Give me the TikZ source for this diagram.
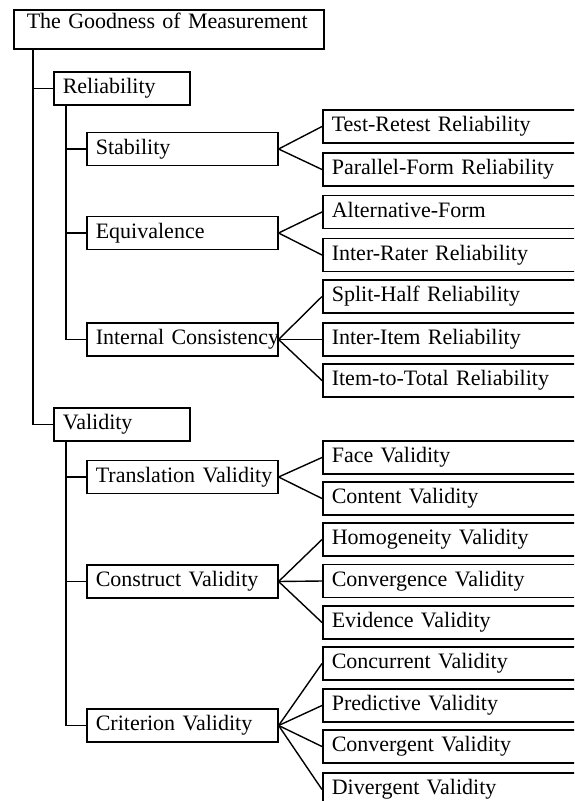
\documentclass[tikz,border=0pt]{standalone}
\usepackage{fontspec}
\setmainfont[WordSpace=0.4]{Liberation Serif}
\usetikzlibrary{calc}

\tikzset{
  box/.style={draw, line width=1.6pt, anchor=west, inner xsep=9pt, inner ysep=0pt,
    minimum height=33pt, text height=15pt, text depth=5pt, align=left,
    font=\fontsize{22}{25}\selectfont},
  lvlzero/.style={box, inner xsep=13pt, inner ysep=3pt, text depth=18pt, text width=284pt},
  lvlone/.style={box, text width=118pt},
  lvltwo/.style={box, text width=173pt},
  leaf/.style={box, text width=252pt},
  line/.style={draw, line width=1.4pt}
}

\begin{document}
\begin{tikzpicture}[x=1pt,y=-1pt]
    \useasboundingbox (0,0) rectangle (574,801);
    \clip (0,0) rectangle (574,801);
    % tree
    \node[lvlzero] (root) at (13,29.5) {The Goodness of Measurement};
    \node[lvlone] (rel) at (53,88.5) {Reliability};
    \node[lvlone] (val) at (53,424.5) {Validity};
    \node[lvltwo] (stab) at (86,149) {Stability};
    \node[lvltwo] (equiv) at (86,233) {Equivalence};
    \node[lvltwo] (intc) at (86,339.5) {\mbox{Internal Consistency}};
    \node[lvltwo] (trans) at (86,477) {\mbox{Translation Validity}};
    \node[lvltwo] (constr) at (86,581.5) {Construct Validity};
    \node[lvltwo] (crit) at (86,725.5) {Criterion Validity};
    % leaves
    \node[leaf] (trr) at (322,126.5) {Test-Retest Reliability};
    \node[leaf] (pfr) at (322,169.5) {Parallel-Form Reliability};
    \node[leaf] (alt) at (322,212) {Alternative-Form};
    \node[leaf] (irr) at (322,255) {Inter-Rater Reliability};
    \node[leaf] (shr) at (322,296.5) {Split-Half Reliability};
    \node[leaf] (iir) at (322,339.5) {Inter-Item Reliability};
    \node[leaf] (itr) at (322,380.5) {Item-to-Total Reliability};
    \node[leaf] (face) at (322,457.5) {Face Validity};
    \node[leaf] (cont) at (322,498.5) {Content Validity};
    \node[leaf] (homo) at (322,539.5) {Homogeneity Validity};
    \node[leaf] (conv) at (322,581) {Convergence Validity};
    \node[leaf] (evid) at (322,622.5) {Evidence Validity};
    \node[leaf] (conc) at (322,663.5) {Concurrent Validity};
    \node[leaf] (pred) at (322,705.5) {Predictive Validity};
    \node[leaf] (cvg) at (322,746.5) {Convergent Validity};
    \node[leaf] (dvg) at (322,789.5) {Divergent Validity};
    % trunks
    \draw[line] ([xshift=20pt]root.south west) |- (val.west);
    \draw[line] ([xshift=20pt]root.south west) |- (rel.west);
    \draw[line] ([xshift=13pt]rel.south west) |- (intc.west);
    \draw[line] ([xshift=13pt]rel.south west) |- (stab.west);
    \draw[line] ([xshift=13pt]rel.south west) |- (equiv.west);
    \draw[line] ([xshift=13pt]val.south west) |- (crit.west);
    \draw[line] ([xshift=13pt]val.south west) |- (trans.west);
    \draw[line] ([xshift=13pt]val.south west) |- (constr.west);
    % fans
    \path[line]
      (stab.east) edge (trr.west) edge (pfr.west)
      (equiv.east) edge (alt.west) edge (irr.west)
      (intc.east) edge (shr.west) edge (iir.west) edge (itr.west)
      (trans.east) edge (face.west) edge (cont.west)
      (constr.east) edge (homo.west) edge (conv.west) edge (evid.west)
      (crit.east) edge (conc.west) edge (pred.west) edge (cvg.west) edge (dvg.west);
  \end{tikzpicture}
\end{document}
